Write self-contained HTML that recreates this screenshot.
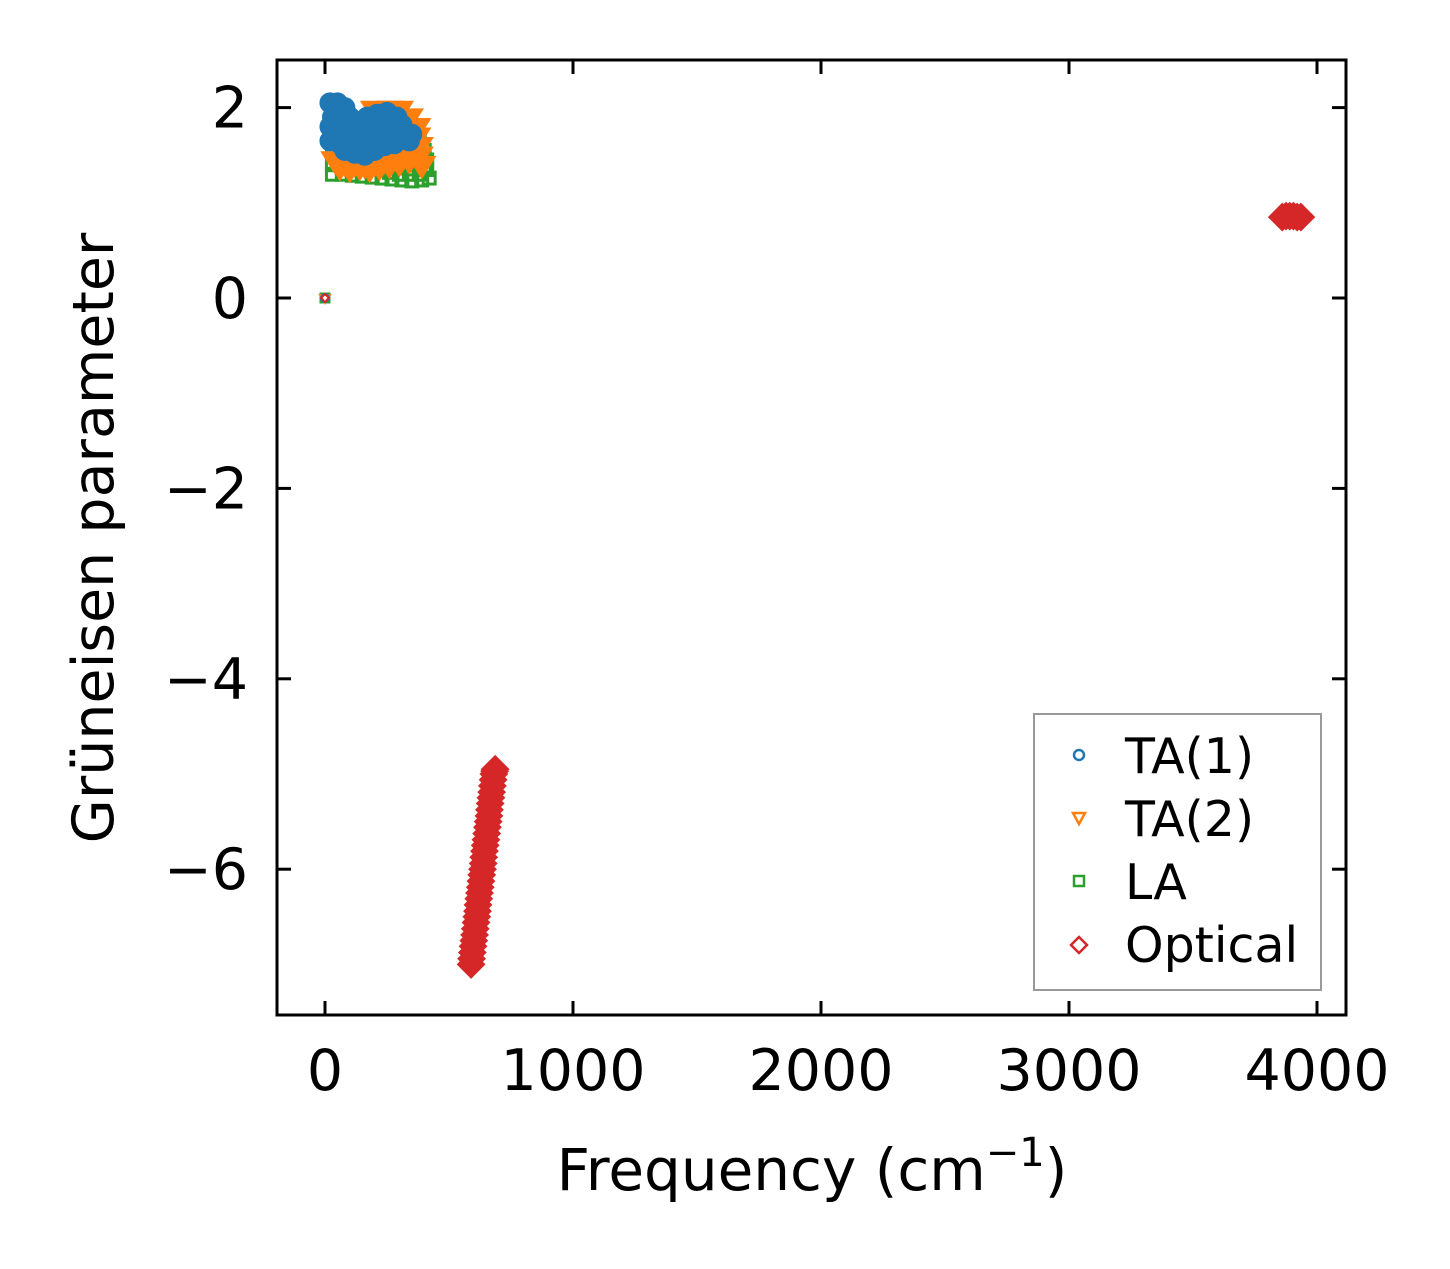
<!DOCTYPE html>
<html><head><meta charset="utf-8"><style>
body{margin:0;background:#fff}
svg text{font-family:"DejaVu Sans","Liberation Sans",sans-serif;fill:#000}
</style></head><body>
<svg id="chart" width="1450" height="1264" xmlns="http://www.w3.org/2000/svg">
<rect width="1450" height="1264" fill="#fff"/>
<g id="marks"></g>
<g id="axes"></g>
<rect x="277" y="60" width="1069" height="955" fill="none" stroke="#000" stroke-width="3"/>
<text x="812" y="1190" font-size="58" text-anchor="middle">Frequency (cm<tspan font-size="40" dy="-24">−1</tspan><tspan dy="24">)</tspan></text>
<text transform="translate(113,538) rotate(-90)" font-size="57" text-anchor="middle">Grüneisen parameter</text>
<g>
<rect x="1034" y="714" width="287" height="276" fill="#fff" stroke="#999" stroke-width="2"/>
<circle cx="1079" cy="755" r="5" fill="none" stroke="#1f77b4" stroke-width="2.5"/>
<text x="1125" y="773" font-size="49">TA(1)</text>
<path d="M1073,813 L1085,813 L1079,824 Z" fill="none" stroke="#ff7f0e" stroke-width="2.5"/>
<text x="1125" y="836" font-size="49">TA(2)</text>
<rect x="1074" y="876" width="10" height="10" fill="none" stroke="#2ca02c" stroke-width="2.5"/>
<text x="1125" y="899" font-size="49">LA</text>
<path d="M1079,937 L1087,945 L1079,953 L1071,945 Z" fill="none" stroke="#d62728" stroke-width="2.5"/>
<text x="1125" y="962" font-size="49">Optical</text>
</g>
</svg>
<script>
const xTicks=[0,1000,2000,3000,4000];
const xTickLabels=["0","1000","2000","3000","4000"];
const yTicks=[2,0,-2,-4,-6];
const yTickLabels=["2","0","\u22122","\u22124","\u22126"];
const ta1X=[20,50,80,30,60,100,20,50,90,130,170,210,250,290,40,80,120,160,200,240,280,320,350,20,60,100,140,180,220,260,300,340,120,160,200,240,280,80,0,120,200,150,60,250,310,30,190,230];
const ta1Y=[2.05,2.05,2.0,1.9,1.95,1.9,1.8,1.85,1.8,1.85,1.9,1.93,1.95,1.9,1.7,1.75,1.7,1.75,1.8,1.82,1.8,1.75,1.72,1.65,1.62,1.6,1.6,1.65,1.7,1.7,1.68,1.65,1.52,1.5,1.55,1.6,1.62,1.55,0,1.78,1.68,1.82,1.78,1.85,1.82,1.75,1.72,1.6];
const ta2X=[0,260,300,340,370,360,380,350,320,280,240,200,160,120,80,40,60,100,140,180,220,260,300,340,380,200,370,150,330,300,260,390];
const ta2Y=[0,1.98,1.98,1.9,1.8,1.7,1.6,1.55,1.5,1.48,1.45,1.42,1.4,1.42,1.42,1.45,1.38,1.36,1.38,1.36,1.38,1.4,1.42,1.45,1.5,1.98,1.7,1.48,1.6,1.55,1.52,1.4];
const laX=[0,30,30,70,110,150,190,230,270,310,350,390,420,400,410,400,380,370,340,360,300,260,380,30,410,390];
const laY=[0,1.5,1.3,1.3,1.29,1.28,1.27,1.26,1.25,1.24,1.23,1.24,1.26,1.35,1.45,1.55,1.65,1.72,1.3,1.4,1.3,1.32,1.3,1.4,1.35,1.5];
const optX=[589,591,594,597,600,603,606,609,612,615,617,620,623,626,629,632,635,638,640,643,646,649,652,655,658,661,663,666,669,672,675,678,681,684,686,3860,3875,3890,3905,3920,3935,0];
const optY=[-7.0,-6.94,-6.875,-6.81,-6.75,-6.69,-6.625,-6.56,-6.5,-6.44,-6.375,-6.31,-6.25,-6.19,-6.125,-6.06,-6.0,-5.94,-5.875,-5.81,-5.75,-5.69,-5.625,-5.56,-5.5,-5.44,-5.375,-5.31,-5.25,-5.19,-5.125,-5.06,-5.0,-4.97,-4.95,0.85,0.86,0.86,0.86,0.85,0.85,0];
const X0=325,XS=0.248,Y0=298,YS=95.2;
function sx(v){return X0+v*XS;}
function sy(v){return Y0-v*YS;}
const NS="http://www.w3.org/2000/svg";
const marks=document.getElementById('marks');
const axes=document.getElementById('axes');
function mk(tag,attrs,parent){const e=document.createElementNS(NS,tag);for(const k in attrs)e.setAttribute(k,attrs[k]);parent.appendChild(e);return e;}
xTicks.forEach((t,i)=>{const x=sx(t);
 const a=mk('line',{x1:x,x2:x,y1:1015,y2:1001,stroke:'#000','stroke-width':3},axes);
 
 
 const b=mk('line',{x1:x,x2:x,y1:60,y2:74,stroke:'#000','stroke-width':3},axes);
 
 
 const l=mk('text',{x:x,y:1090,'font-size':57,'text-anchor':'middle'},axes);l.textContent=xTickLabels[i];
 
 
});
yTicks.forEach((t,i)=>{const y=sy(t);
 const a=mk('line',{x1:277,x2:291,y1:y,y2:y,stroke:'#000','stroke-width':3},axes);
 
 
 const b=mk('line',{x1:1346,x2:1332,y1:y,y2:y,stroke:'#000','stroke-width':3},axes);
 
 
 const l=mk('text',{x:248,y:y+20,'font-size':57,'text-anchor':'end'},axes);l.textContent=yTickLabels[i];
 
 
});
function series(xs,ys,color,shape,name){
 const g=mk('g',{},marks);
 
 
 xs.forEach((v,i)=>{const x=sx(v),y=sy(ys[i]);let e;
  const big=!(v===0&&ys[i]===0);
  if(shape==='circle'){e=mk('circle',{cx:x,cy:y,r:big?9:4,fill:big?color:'none',stroke:color,'stroke-width':big?3:2},g);}
  else if(shape==='tri'){const s=big?12:5;e=mk('path',{d:`M${x-s},${y-s*0.6} L${x+s},${y-s*0.6} L${x},${y+s} Z`,fill:big?color:'none',stroke:color,'stroke-width':big?3:2},g);}
  else if(shape==='square'){const s=big?6:4;e=mk('rect',{x:x-s,y:y-s,width:2*s,height:2*s,fill:'none',stroke:color,'stroke-width':3},g);}
  else {const s=big?13:4;e=mk('path',{d:`M${x},${y-s} L${x+s},${y} L${x},${y+s} L${x-s},${y} Z`,fill:big?color:'none',stroke:color,'stroke-width':2},g);}
  
  
 });
}
series(laX,laY,'#2ca02c','square','series-la');
series(ta2X,ta2Y,'#ff7f0e','tri','series-ta2');
series(ta1X,ta1Y,'#1f77b4','circle','series-ta1');
series(optX,optY,'#d62728','diamond','series-optical');
</script>
</body></html>
